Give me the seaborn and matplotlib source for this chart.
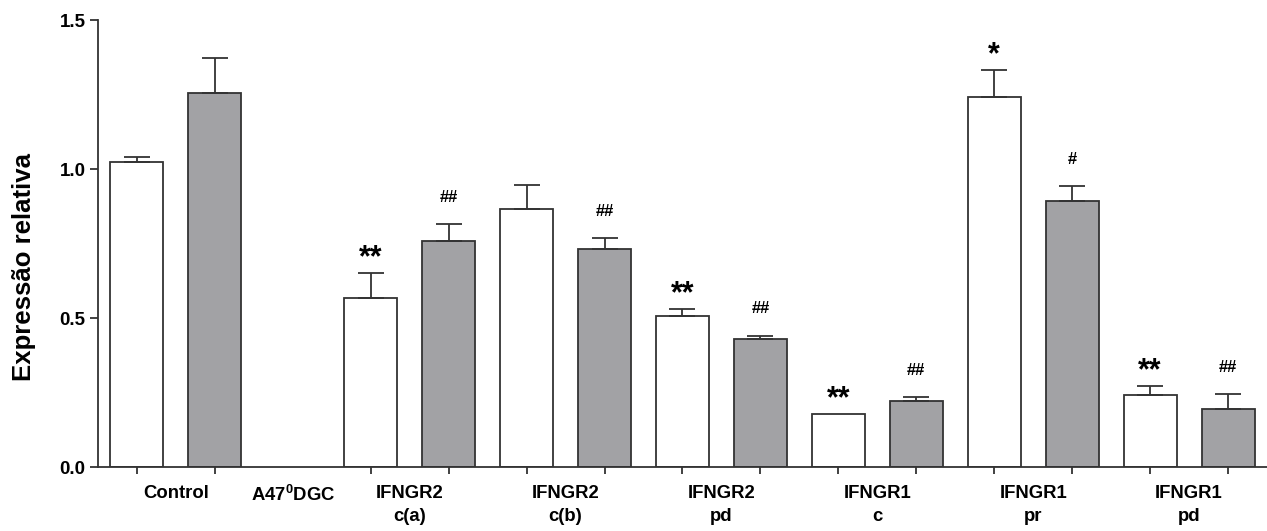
import numpy as np
import pandas as pd
import seaborn as sns
import matplotlib.pyplot as plt

# values
groups = ["Control", "A47$^{\\mathbf{0}}$DGC", "IFNGR2\nc(a)", "IFNGR2\nc(b)", "IFNGR2\npd",
          "IFNGR1\nc", "IFNGR1\npr", "IFNGR1\npd"]
white_vals = [1.023, np.nan, 0.567, 0.866, 0.507, 0.178, 1.242, 0.242]
white_err = [0.017, np.nan, 0.084, 0.080, 0.023, 0.0, 0.090, 0.030]
gray_vals = [1.255, np.nan, 0.758, 0.732, 0.430, 0.221, 0.893, 0.195]
gray_err = [0.117, np.nan, 0.057, 0.036, 0.010, 0.014, 0.050, 0.050]
white_sig = ["", "", "**", "", "**", "**", "*", "**"]
gray_sig = ["", "", "##", "##", "##", "##", "#", "##"]

# one slot per bar, a single empty slot for a group without data
rows = []
order = []
centers = []
for i, g in enumerate(groups):
    if np.isnan(white_vals[i]):
        centers.append(len(order))
        order.append(g + "|empty")
        continue
    centers.append(len(order) + 0.5)
    for cond, v, e, s in [("white", white_vals[i], white_err[i], white_sig[i]),
                          ("gray", gray_vals[i], gray_err[i], gray_sig[i])]:
        slot = g + "|" + cond
        rows.append({"slot": slot, "cond": cond, "value": v, "err": e, "sig": s,
                     "pos": len(order)})
        order.append(slot)
df = pd.DataFrame(rows)

sns.set_style("ticks")
plt.rcParams["font.family"] = ["Liberation Sans", "DejaVu Sans"]
plt.rcParams["font.weight"] = "bold"
plt.rcParams["text.color"] = "black"
plt.rcParams["mathtext.fontset"] = "custom"
plt.rcParams["mathtext.bf"] = "Liberation Sans:bold"
plt.rcParams["mathtext.rm"] = "Liberation Sans:bold"

fig = plt.figure(figsize=(12.67, 5.31), dpi=100)
ax = fig.add_axes([0.0773, 0.1205, 0.9227, 0.8418])

edge = "#333333"
sns.barplot(data=df, x="slot", y="value", hue="cond", order=order,
            palette={"white": "white", "gray": "#a2a1a6"}, dodge=False,
            width=0.68, edgecolor=edge, linewidth=1.3, legend=False, ax=ax)

eb = df[df["err"] > 0]
ax.errorbar(eb["pos"], eb["value"], yerr=[np.zeros(len(eb)), eb["err"]],
            fmt="none", ecolor=edge, elinewidth=1.3, capsize=9.5, capthick=1.3)

for _, r in df.iterrows():
    if not r["sig"]:
        continue
    top = r["value"] + r["err"]
    if "*" in r["sig"]:
        ax.annotate(r["sig"], (r["pos"], top), xytext=(0, 0), textcoords="offset points",
                    ha="center", va="bottom", fontsize=22, fontweight="bold", color="black")
    else:
        ax.annotate(r["sig"], (r["pos"], top), xytext=(0, 14), textcoords="offset points",
                    ha="center", va="bottom", fontsize=12, fontweight="bold", color="black")

ax.set_xlim(-0.5, len(order) - 0.5)
ax.set_ylim(0, 1.5)
ax.set_yticks([0, 0.5, 1.0, 1.5])
ax.set_yticklabels(["0.0", "0.5", "1.0", "1.5"], fontsize=13.5, fontweight="bold")
ax.set_xticks(centers)
ax.set_xticklabels(groups, fontsize=13.3, fontweight="bold", linespacing=1.45)
ax.set_xticks(range(len(order)), minor=True)
ax.tick_params(axis="x", which="major", length=0, pad=13, labelcolor="black")
ax.tick_params(axis="x", which="minor", length=5, width=1.3, color=edge)
ax.tick_params(axis="y", length=6, width=1.3, color=edge, pad=3, labelcolor="black")
ax.set_xlabel("")
ax.set_ylabel("Expressão relativa", fontsize=18.5, fontweight="bold", labelpad=17,
              color="black")
ax.yaxis.label.set_y(0.447)
sns.despine(ax=ax)
for sp in ["left", "bottom"]:
    ax.spines[sp].set_linewidth(1.3)
    ax.spines[sp].set_color(edge)

fig.savefig("out.png", dpi=100)
